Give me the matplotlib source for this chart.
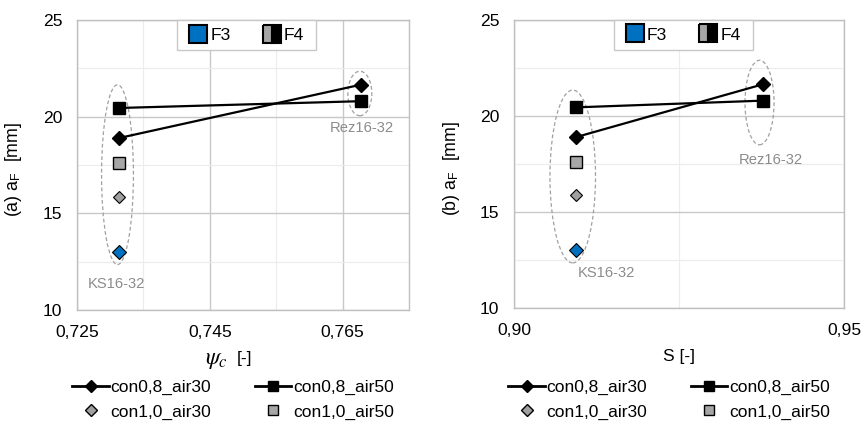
import matplotlib
matplotlib.use('Agg')
import matplotlib.pyplot as plt
from matplotlib.lines import Line2D
from matplotlib.patches import Ellipse, Rectangle
from matplotlib.ticker import FuncFormatter, FixedLocator

# ── data ───────────────────────────────────────────────────
psi_c = [0.7314, 0.7677]          # KS16-32, Rez16-32
S_val = [0.9094, 0.9377]
con08_air30 = [18.9, 21.65]
con08_air50 = [20.45, 20.8]
con10_air30 = [15.86]             # KS16-32 only
con10_air50 = [17.6]
f3_val = [13.0]
group_names = ['KS16-32', 'Rez16-32']

plt.rcParams['font.family'] = ['Liberation Sans', 'DejaVu Sans']
plt.rcParams['mathtext.fontset'] = 'stix'

GRAY_TXT = '#8c8c8c'
BLUE = '#0070c0'
NARROW = ['Liberation Sans Narrow', 'Liberation Sans']

fig = plt.figure(figsize=(8.64, 4.21), dpi=100)
W, H = 864, 421


def px_axes(x0, x1, ytop, ybot):
    return fig.add_axes([x0 / W, (H - ybot) / H, (x1 - x0) / W, (ybot - ytop) / H])


def style_axes(ax, xlim, major, minor, fmt):
    ax.set_xlim(*xlim)
    ax.set_ylim(10, 25)
    ax.xaxis.set_major_locator(FixedLocator(major))
    ax.xaxis.set_minor_locator(FixedLocator(minor))
    ax.yaxis.set_major_locator(FixedLocator([10, 15, 20, 25]))
    ax.yaxis.set_minor_locator(FixedLocator([12.5, 17.5, 22.5]))
    ax.xaxis.set_major_formatter(FuncFormatter(lambda v, p: fmt.format(v).replace('.', ',')))
    ax.yaxis.set_major_formatter(FuncFormatter(lambda v, p: f'{v:.0f}'))
    ax.grid(which='major', color='#c8c8c8', lw=1.0)
    ax.grid(which='minor', color='#ececec', lw=0.8)
    ax.set_axisbelow(True)
    ax.tick_params(which='both', length=0, labelsize=12.6)
    ax.tick_params(axis='x', pad=11)
    ax.tick_params(axis='y', pad=10.5)
    for s in ax.spines.values():
        s.set_color('#c0c0c0')
        s.set_linewidth(1.0)


def draw_points(ax, xs):
    ax.plot(xs, con08_air30, '-D', color='black', lw=1.6, ms=7, zorder=4)
    ax.plot(xs, con08_air50, '-s', color='black', lw=1.6, ms=9, zorder=4)
    ax.plot(xs[:1], con10_air30, 'D', mfc='#a0a0a0', mec='black', ms=6.5, mew=0.8, zorder=4)
    ax.plot(xs[:1], con10_air50, 's', mfc='#a6a6a6', mec='black', ms=8, mew=1.0, zorder=4)
    ax.plot(xs[:1], f3_val, 'D', mfc=BLUE, mec='black', ms=7, mew=0.8, zorder=4)


def top_legend(ax, box, center):
    ax.add_patch(Rectangle((box[0], box[2]), box[1] - box[0], 1 - box[2],
                           transform=ax.transAxes, fc='white', ec='#c8c8c8',
                           lw=1.0, zorder=5, clip_on=False))
    h_f3 = Line2D([], [], ls='', marker='s', ms=13, mfc=BLUE, mec='black', mew=1.5)
    h_f4 = Line2D([], [], ls='', marker='s', ms=13, mfc='#a6a6a6', mfcalt='black',
                  fillstyle='left', mec='black', mew=1.5)
    leg = ax.legend([h_f3, h_f4], ['F3', 'F4'], loc='center', ncol=2,
                    bbox_to_anchor=center, frameon=False, fontsize=12.6,
                    handlelength=1.1, handletextpad=0.15, columnspacing=1.8,
                    borderpad=0.2, borderaxespad=0)
    leg.set_zorder(6)


def bottom_legend(cx):
    hs = [Line2D([], [], color='black', lw=2, marker='D', ms=6),
          Line2D([], [], color='black', lw=2, marker='s', ms=7),
          Line2D([], [], ls='', marker='D', mfc='#a0a0a0', mec='black', ms=6),
          Line2D([], [], ls='', marker='s', mfc='#a6a6a6', mec='black', ms=7)]
    labs = ['con0,8_air30', 'con1,0_air30', 'con0,8_air50', 'con1,0_air50']
    order = [hs[0], hs[2], hs[1], hs[3]]
    fig.legend(order, labs, loc='center', bbox_to_anchor=(cx / W, 1 - 399.5 / H),
               ncol=2, frameon=False, handlelength=2.1,
               handletextpad=0.1, columnspacing=2.5, labelspacing=0.55,
               prop={'family': NARROW, 'size': 12.5})


# ── panel (a) ──────────────────────────────────────────────
ax1 = px_axes(77, 409, 20, 310)
style_axes(ax1, (0.725, 0.775), [0.725, 0.745, 0.765], [0.735, 0.755, 0.775], '{:.3f}')
draw_points(ax1, psi_c)
ax1.add_patch(Ellipse((0.7311, 17.0), 0.0048, 9.3, fill=False, ls=(0, (3, 2)),
                      ec='#a0a0a0', lw=0.9, zorder=3))
ax1.add_patch(Ellipse((0.7676, 21.2), 0.0036, 2.3, fill=False, ls=(0, (3, 2)),
                      ec='#a0a0a0', lw=0.9, zorder=3))
ax1.text(0.72666, 11.35, group_names[0], color=GRAY_TXT, fontsize=10.6, va='center')
ax1.text(0.7631, 19.42, group_names[1], color=GRAY_TXT, fontsize=10.6, va='center')
top_legend(ax1, (0.301, 0.720, 0.8966), (0.5105, 0.948))
ax1.set_ylabel('(a) a$_\\mathregular{F}$  [mm]', fontsize=12.8)
ax1.yaxis.set_label_coords(-0.16, 0.486)
fig.text(228 / W, 1 - 360 / H, '$\\psi_c$', fontsize=17, ha='right', va='center')
fig.text(237 / W, 1 - 359 / H, '[-]', fontsize=12.5, ha='left', va='center', family=NARROW)
bottom_legend(233)

# ── panel (b) ──────────────────────────────────────────────
ax2 = px_axes(514, 844, 20, 308)
style_axes(ax2, (0.90, 0.95), [0.90, 0.95], [0.925], '{:.2f}')
draw_points(ax2, S_val)
ax2.add_patch(Ellipse((0.9089, 16.85), 0.0069, 9.0, fill=False, ls=(0, (3, 2)),
                      ec='#a0a0a0', lw=0.9, zorder=3))
ax2.add_patch(Ellipse((0.9372, 20.7), 0.0044, 4.4, fill=False, ls=(0, (3, 2)),
                      ec='#a0a0a0', lw=0.9, zorder=3))
ax2.text(0.90965, 11.82, group_names[0], color=GRAY_TXT, fontsize=10.6, va='center')
ax2.text(0.9341, 17.7, group_names[1], color=GRAY_TXT, fontsize=10.6, va='center')
top_legend(ax2, (0.302, 0.724, 0.896), (0.512, 0.948))
ax2.set_ylabel('(b) a$_\\mathregular{F}$  [mm]', fontsize=12.8)
ax2.yaxis.set_label_coords(-0.158, 0.486)
fig.text(679 / W, 1 - 357 / H, 'S [-]', fontsize=12.5, ha='center', va='center', family=NARROW)
bottom_legend(669)

fig.savefig('out.png', dpi=100)
